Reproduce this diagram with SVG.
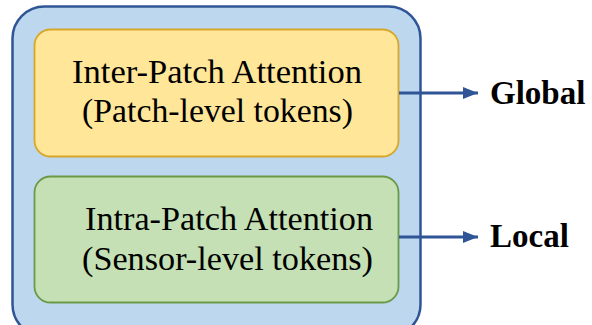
<svg xmlns="http://www.w3.org/2000/svg" width="592" height="325" viewBox="0 0 592 325">
<style>
.t{font-family:"Liberation Serif","Times New Roman",serif;font-size:33.5px;fill:#000}
.b{font-family:"Liberation Serif","Times New Roman",serif;font-size:33px;font-weight:bold;fill:#000}
.arr{stroke:#2f5597;stroke-width:3;fill:none}
</style>
<defs>
<marker id="ah" viewBox="0 0 10 8" refX="10" refY="4" markerWidth="5" markerHeight="4" orient="auto" markerUnits="strokeWidth">
<path d="M0,0 L10,4 L0,8 z" fill="#2f5597"/>
</marker>
</defs>
<g id="outer">
<rect x="12.5" y="6.5" width="408" height="330" rx="32" fill="#bdd7ee" stroke="#2f5597" stroke-width="2.5"/>
</g>
<g id="inter">
<rect x="34.5" y="29.5" width="364" height="127" rx="16" fill="#ffe699" stroke="#d6a72a" stroke-width="1.8"/>
<text class="t" x="72" y="83" textLength="290" lengthAdjust="spacingAndGlyphs">Inter-Patch Attention</text>
<text class="t" x="82" y="122" textLength="271" lengthAdjust="spacingAndGlyphs">(Patch-level tokens)</text>
</g>
<g id="intra">
<rect x="34.5" y="176.5" width="364" height="126" rx="16" fill="#c5e0b4" stroke="#6a9a47" stroke-width="1.8"/>
<text class="t" x="85" y="230" textLength="288" lengthAdjust="spacingAndGlyphs">Intra-Patch Attention</text>
<text class="t" x="82" y="270" textLength="291" lengthAdjust="spacingAndGlyphs">(Sensor-level tokens)</text>
</g>
<g id="global">
<text class="b" x="490" y="104">Global</text>
</g>
<g id="local">
<text class="b" x="490" y="247">Local</text>
</g>
<g id="connectors">
<line class="arr" x1="399" y1="93" x2="478" y2="93" marker-end="url(#ah)"/>
<line class="arr" x1="399" y1="237" x2="478" y2="237" marker-end="url(#ah)"/>
</g>
</svg>
